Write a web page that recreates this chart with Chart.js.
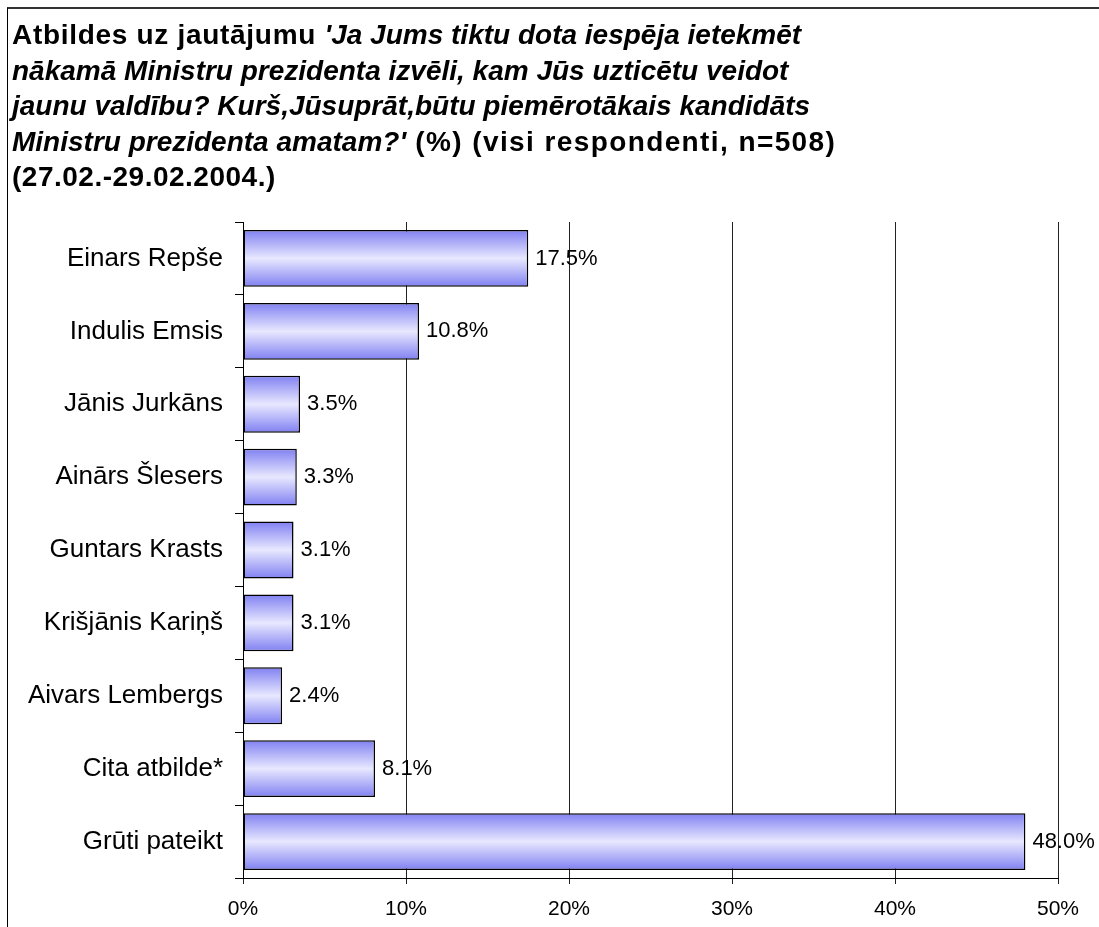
<!DOCTYPE html>
<html>
<head>
<meta charset="utf-8">
<script src="https://cdn.jsdelivr.net/npm/chart.js@4/dist/chart.umd.min.js"></script>
<style>
  html, body { margin: 0; padding: 0; background: #fff; }
  #wrap { position: relative; width: 1099px; height: 927px; overflow: hidden; }
  #frame { position: absolute; left: 7px; top: 7px; width: 1200px; height: 1000px;
           border-top: 2px solid #333; border-left: 1px solid #000; box-sizing: border-box; }
  #title { position: absolute; left: 12px; top: 17px; font-family: "Liberation Sans", Arial, sans-serif;
           font-weight: bold; font-size: 28px; line-height: 35.5px; color: #000; white-space: nowrap; }
  #title .w1 { letter-spacing: 0.7px; }
  #title .w4 { letter-spacing: 1.4px; }
  #title .w5 { letter-spacing: 0.5px; }
  canvas { position: absolute; left: 0; top: 0; }
</style>
</head>
<body>
<div id="wrap">
  <div id="frame"></div>
  <canvas id="c" width="1099" height="927"></canvas>
  <div id="title"><span class="w1">Atbildes uz jautājumu </span><i>'Ja Jums tiktu dota iespēja ietekmēt<br>nākamā Ministru prezidenta izvēli, kam Jūs uzticētu veidot<br>jaunu valdību? Kurš,Jūsuprāt,būtu piemērotākais kandidāts<br>Ministru prezidenta amatam?'</i><span class="w4"> (%) (visi respondenti, n=508)</span><br><span class="w5">(27.02.-29.02.2004.)</span></div>
</div>
<script>
const categories = ['Einars Repše','Indulis Emsis','Jānis Jurkāns','Ainārs Šlesers','Guntars Krasts','Krišjānis Kariņš','Aivars Lembergs','Cita atbilde*','Grūti pateikt'];
const values = [17.5, 10.8, 3.5, 3.3, 3.1, 3.1, 2.4, 8.1, 48.0];
const xTickValues = [0, 10, 20, 30, 40, 50];

const FONT = '"Liberation Sans", Arial, sans-serif';
const BAR_PCT = 0.78;

function barGradient(c) {
  const chart = c.chart;
  if (!chart.chartArea || c.dataIndex === undefined) return '#b0b0fa';
  const ys = chart.scales.y;
  const yc = ys.getPixelForValue(c.dataIndex);
  const h = (ys.height / categories.length) * BAR_PCT;
  const g = chart.ctx.createLinearGradient(0, yc - h / 2, 0, yc + h / 2);
  g.addColorStop(0, '#8080f2');
  g.addColorStop(0.5, '#e8e8ff');
  g.addColorStop(1, '#8080f2');
  return g;
}

const valueLabels = {
  id: 'valueLabels',
  afterDatasetsDraw(chart) {
    const ctx = chart.ctx;
    const meta = chart.getDatasetMeta(0);
    ctx.save();
    ctx.font = '22px ' + FONT;
    ctx.fillStyle = '#000';
    ctx.textAlign = 'left';
    ctx.textBaseline = 'middle';
    meta.data.forEach((bar, i) => {
      ctx.fillText(values[i].toFixed(1) + '%', bar.x + 7, bar.y);
    });
    ctx.restore();
  }
};

new Chart(document.getElementById('c'), {
  type: 'bar',
  data: {
    labels: categories,
    datasets: [{
      data: values,
      backgroundColor: barGradient,
      borderColor: '#000',
      borderWidth: 1.5,
      borderSkipped: false,
      barPercentage: BAR_PCT,
      categoryPercentage: 1.0
    }]
  },
  options: {
    indexAxis: 'y',
    responsive: false,
    animation: false,
    events: [],
    layout: { padding: { top: 222, left: 0, right: 41, bottom: 0 } },
    plugins: { legend: { display: false }, tooltip: { enabled: false }, title: { display: false } },
    scales: {
      x: {
        min: 0, max: 50,
        afterBuildTicks(scale) { scale.ticks = xTickValues.map(v => ({ value: v })); },
        afterFit(scale) { scale.height = 49; },
        grid: { color: '#222', lineWidth: 1, tickLength: 6, drawOnChartArea: true },
        border: { color: '#000', width: 1 },
        ticks: { color: '#000', padding: 13, font: { family: FONT, size: 21 }, callback: v => v + '%' , maxRotation: 0, autoSkip: false }
      },
      y: {
        afterFit(scale) { scale.width = 243; },
        grid: { color: '#000', lineWidth: 1, tickLength: 8, drawOnChartArea: false, offset: true },
        border: { color: '#000', width: 1 },
        ticks: { color: '#000', padding: 12, font: { family: FONT, size: 26 }, autoSkip: false }
      }
    }
  },
  plugins: [valueLabels]
});
</script>
</body>
</html>
